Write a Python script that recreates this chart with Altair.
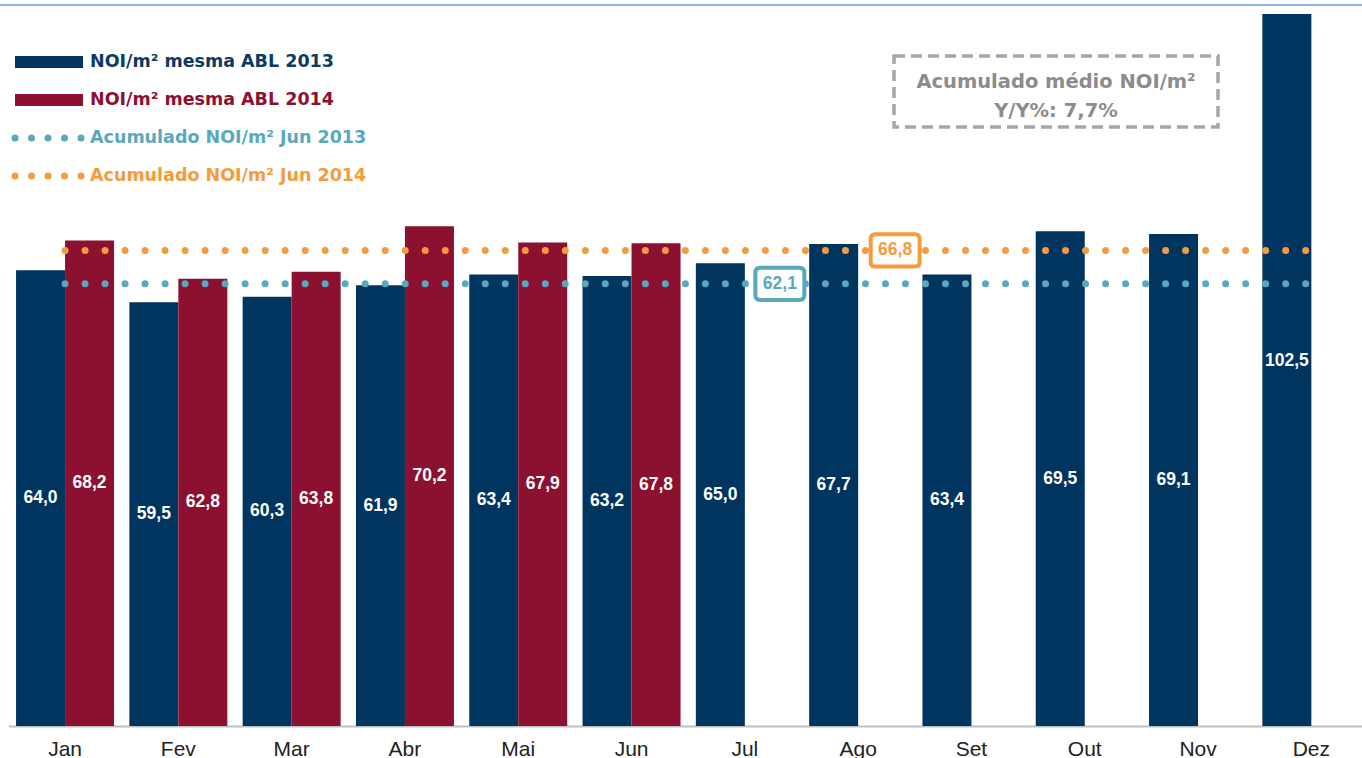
import altair as alt
import pandas as pd

months = ["Jan", "Fev", "Mar", "Abr", "Mai", "Jun", "Jul", "Ago", "Set", "Out", "Nov", "Dez"]
values_2013 = [64.0, 59.5, 60.3, 61.9, 63.4, 63.2, 65.0, 67.7, 63.4, 69.5, 69.1, 102.5]
values_2014 = [68.2, 62.8, 63.8, 70.2, 67.9, 67.8]
avg_2013 = 62.1
avg_2014 = 66.8

NAVY = "#003560"
MAROON = "#8C1030"
TEAL = "#5AA8BD"
ORANGE = "#F59B3C"
GRAY = "#A6A6A6"

rows = []
for m, v in zip(months, values_2013):
    rows.append({"month": m, "year": "2013", "value": v})
for m, v in zip(months, values_2014):
    rows.append({"month": m, "year": "2014", "value": v})
bars_df = pd.DataFrame(rows)

x_scale = alt.Scale(domain=months, range=[8.4, 1368], paddingInner=0.135, paddingOuter=0.0675)
y_scale = alt.Scale(domain=[0, 100], nice=False, zero=True)

x_enc = alt.X("month:N", sort=months, scale=x_scale,
              axis=alt.Axis(title=None, labelAngle=0, labelFont="Liberation Sans", labelFontSize=21,
                            labelColor="#222222", labelPadding=12, domainColor="#BFBFBF",
                            domainWidth=2, ticks=False, grid=False))

bars = alt.Chart(bars_df).mark_bar(clip=True).encode(
    x=x_enc,
    xOffset=alt.XOffset("year:N", scale=alt.Scale(domain=["2013", "2014"], paddingInner=0, paddingOuter=0)),
    y=alt.Y("value:Q", scale=y_scale, axis=None),
    color=alt.Color("year:N", scale=alt.Scale(domain=["2013", "2014"], range=[NAVY, MAROON]), legend=None),
)

bar_labels = alt.Chart(bars_df).transform_calculate(
    half="datum.value / 2",
    label="replace(format(datum.value, '.1f'), '.', ',')",
).mark_text(color="white", font="Liberation Sans", fontWeight="bold", fontSize=17.5).encode(
    x=alt.X("month:N", sort=months, scale=x_scale),
    xOffset=alt.XOffset("year:N", scale=alt.Scale(domain=["2013", "2014"], paddingInner=0, paddingOuter=0)),
    y=alt.Y("half:Q", scale=y_scale),
    text="label:N",
)

avg_df = pd.DataFrame([
    {"month": months[0], "series": "2013", "value": avg_2013},
    {"month": months[-1], "series": "2013", "value": avg_2013},
    {"month": months[0], "series": "2014", "value": avg_2014},
    {"month": months[-1], "series": "2014", "value": avg_2014},
])

avg_lines = alt.Chart(avg_df).mark_line(strokeWidth=7, strokeDash=[0.01, 20], strokeCap="round").encode(
    x=alt.X("month:N", sort=months, scale=x_scale),
    y=alt.Y("value:Q", scale=y_scale),
    detail="series:N",
    color=alt.Color("series:N", scale=alt.Scale(domain=["2013", "2014"], range=[TEAL, ORANGE]), legend=None),
)

callout_df = pd.DataFrame([
    {"month": "Jul", "value": avg_2013, "label": "62,1", "series": "2013"},
])
callout_df2 = pd.DataFrame([
    {"month": "Ago", "value": avg_2014, "label": "66,8", "series": "2014"},
])

box_path = ("M -0.8 -0.66 L 0.8 -0.66 Q 1 -0.66 1 -0.46 L 1 0.46 Q 1 0.66 0.8 0.66 "
            "L -0.8 0.66 Q -1 0.66 -1 0.46 L -1 -0.46 Q -1 -0.66 -0.8 -0.66 Z")

def callout(df, color, dx):
    box = alt.Chart(df).mark_point(shape=box_path, size=2400, filled=True, fill="white",
                                   stroke=color, strokeWidth=4, opacity=1, xOffset=dx).encode(
        x=alt.X("month:N", sort=months, scale=x_scale),
        y=alt.Y("value:Q", scale=y_scale),
    )
    txt = alt.Chart(df).mark_text(color=color, font="Liberation Sans", fontWeight="bold",
                                  fontSize=17.5, xOffset=dx).encode(
        x=alt.X("month:N", sort=months, scale=x_scale),
        y=alt.Y("value:Q", scale=y_scale),
        text="label:N",
    )
    return box + txt

c1 = callout(callout_df, TEAL, 35)
c2 = callout(callout_df2, ORANGE, 37)

# Legend (custom)
TOP = 14
leg_labels = ["NOI/m² mesma ABL 2013", "NOI/m² mesma ABL 2014",
              "Acumulado NOI/m² Jun 2013", "Acumulado NOI/m² Jun 2014"]
leg_colors = ["#0B3A66", MAROON, TEAL, ORANGE]
leg_y = [62, 100, 138, 176]

leg_text_df = pd.DataFrame({"label": leg_labels, "color": leg_colors, "y": [v - TOP for v in leg_y]})
leg_text = alt.Chart(leg_text_df).mark_text(align="left", baseline="middle", font="DejaVu Sans",
                                             fontWeight="bold", fontSize=17.5, x=90).encode(
    y=alt.Y("y:Q", scale=None),
    text="label:N",
    color=alt.Color("color:N", scale=None),
)

leg_rect_df = pd.DataFrame({"color": [NAVY, MAROON], "y": [leg_y[0] - TOP - 6, leg_y[1] - TOP - 6],
                            "y2": [leg_y[0] - TOP + 6, leg_y[1] - TOP + 6]})
leg_rects = alt.Chart(leg_rect_df).mark_rect(x=15, x2=83).encode(
    y=alt.Y("y:Q", scale=None),
    y2="y2:Q",
    color=alt.Color("color:N", scale=None),
)

leg_dot_df = pd.DataFrame({"color": [TEAL, ORANGE], "y": [leg_y[2] - TOP, leg_y[3] - TOP]})
leg_dots = alt.Chart(leg_dot_df).mark_rule(x=15, x2=82, strokeWidth=7, strokeDash=[0.01, 16.5],
                                           strokeCap="round").encode(
    y=alt.Y("y:Q", scale=None),
    color=alt.Color("color:N", scale=None),
)

# Summary box
box_df = pd.DataFrame({"a": [0]})
sum_box = alt.Chart(box_df).mark_rect(fillOpacity=0, stroke=GRAY, strokeWidth=3.5,
                                      strokeDash=[11, 6]).encode(
    x=alt.value(894), x2=alt.value(1218), y=alt.value(56 - TOP), y2=alt.value(127 - TOP),
)
sum_df = pd.DataFrame({"label": ["Acumulado médio NOI/m²", "Y/Y%: 7,7%"], "y": [82 - TOP, 111 - TOP]})
sum_text = alt.Chart(sum_df).mark_text(align="center", baseline="middle", font="DejaVu Sans",
                                       fontWeight="bold", fontSize=19.5, color="#8C8C8C", x=1056).encode(
    y=alt.Y("y:Q", scale=None),
    text="label:N",
)

top_rule = alt.Chart(box_df).mark_rule(color="#8DB3E2", strokeWidth=2).encode(
    x=alt.value(0), x2=alt.value(1362), y=alt.value(5 - TOP),
)

chart = alt.layer(
    bars, bar_labels, avg_lines, c1, c2, leg_rects, leg_dots, leg_text, sum_box, sum_text, top_rule
).resolve_scale(color="independent").properties(
    width=1362, height=712,
    padding={"left": 0, "right": 0, "top": TOP, "bottom": 32},
    autosize=alt.AutoSizeParams(type="none"),
    background="white",
).configure_view(stroke=None)

chart.save("out.html", embed_options={"renderer": "svg", "actions": False})
